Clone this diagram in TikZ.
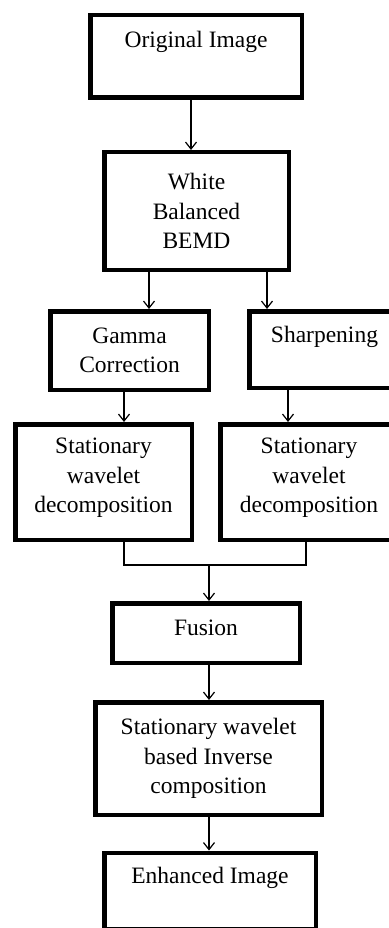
\documentclass[tikz,border=0pt]{standalone}
\usepackage{fontspec}
\setmainfont{Liberation Serif}
\usetikzlibrary{arrows.meta}

\tikzset{
  blk/.style={draw, line width=4.5pt, inner sep=0pt},
  txt/.style={align=center, inner sep=0pt, font=\fontsize{23.5}{29.5}\selectfont},
  flow/.style={line width=1.2pt, -{Straight Barb[length=7pt,width=11pt]}},
  link/.style={line width=1.2pt}
}

\begin{document}
\begin{tikzpicture}[x=1pt, y=-1pt]

  \useasboundingbox (0,0) rectangle (388,928);

  \node[blk, minimum width=211.5pt, minimum height=82.5pt] (orig) at (196,56.5) {};
  \node[txt] (origtxt) at (196,42) {Original Image};

  \node[blk, txt, minimum width=184.5pt, minimum height=117.5pt] (white) at (196.5,211) {White\\Balanced\\BEMD};

  \node[blk, txt, minimum width=158.5pt, minimum height=78.5pt] (gamma) at (129.5,350.5) {Gamma\\Correction};
  \node[blk, minimum width=150.5pt, minimum height=76.5pt] (sharp) at (324.5,349.5) {};
  \node[txt] (sharptxt) at (324.5,337) {Sharpening};

  \node[blk, minimum width=176.5pt, minimum height=115.5pt] (swdl) at (103.5,482) {};
  \node[txt] (swdltxt) at (103.5,478) {Stationary\\wavelet\\decomposition};
  \node[blk, minimum width=177.5pt, minimum height=115.5pt] (swdr) at (309,482) {};
  \node[txt] (swdrtxt) at (309,478) {Stationary\\wavelet\\decomposition};

  \coordinate (join) at (209,565);

  \node[blk, minimum width=187.5pt, minimum height=59.5pt] (fusion) at (206,633) {};
  \node[txt] (fusiontxt) at (206,628) {Fusion};

  \node[blk, txt, minimum width=226.5pt, minimum height=112.5pt] (inv) at (208.5,758.5) {Stationary wavelet\\based Inverse\\composition};

  \node[blk, minimum width=211.5pt, minimum height=76.5pt] (enh) at (210,891) {};
  \node[txt] (enhtxt) at (210,878) {Enhanced Image};

  \draw[flow] ([xshift=-5pt]orig.south) -- ([xshift=-5pt]orig.south |- white.north); %% orig->white
  \draw[flow] ([xshift=-47.5pt]white.south) -- ([xshift=-47.5pt]white.south |- gamma.north); %% white->gamma
  \draw[flow] ([xshift=70.5pt]white.south) -- ([xshift=70.5pt]white.south |- sharp.north); %% white->sharp
  \draw[flow] ([xshift=-5.5pt]gamma.south) -- ([xshift=-5.5pt]gamma.south |- swdl.north); %% gamma->swd
  \draw[flow] ([xshift=-36.5pt]sharp.south) -- ([xshift=-36.5pt]sharp.south |- swdr.north); %% sharp->swd

  \draw[link] ([xshift=20.5pt]swdl.south) |- (join) -| ([xshift=-3pt]swdr.south); %% swd->join
  \draw[flow] (join) -- (join |- fusion.north); %% join->fusion

  \draw[flow] ([xshift=3pt]fusion.south) -- ([xshift=3pt]fusion.south |- inv.north); %% fusion->inv
  \draw[flow] ([xshift=0.5pt]inv.south) -- ([xshift=0.5pt]inv.south |- enh.north); %% inv->enh

\end{tikzpicture}
\end{document}
